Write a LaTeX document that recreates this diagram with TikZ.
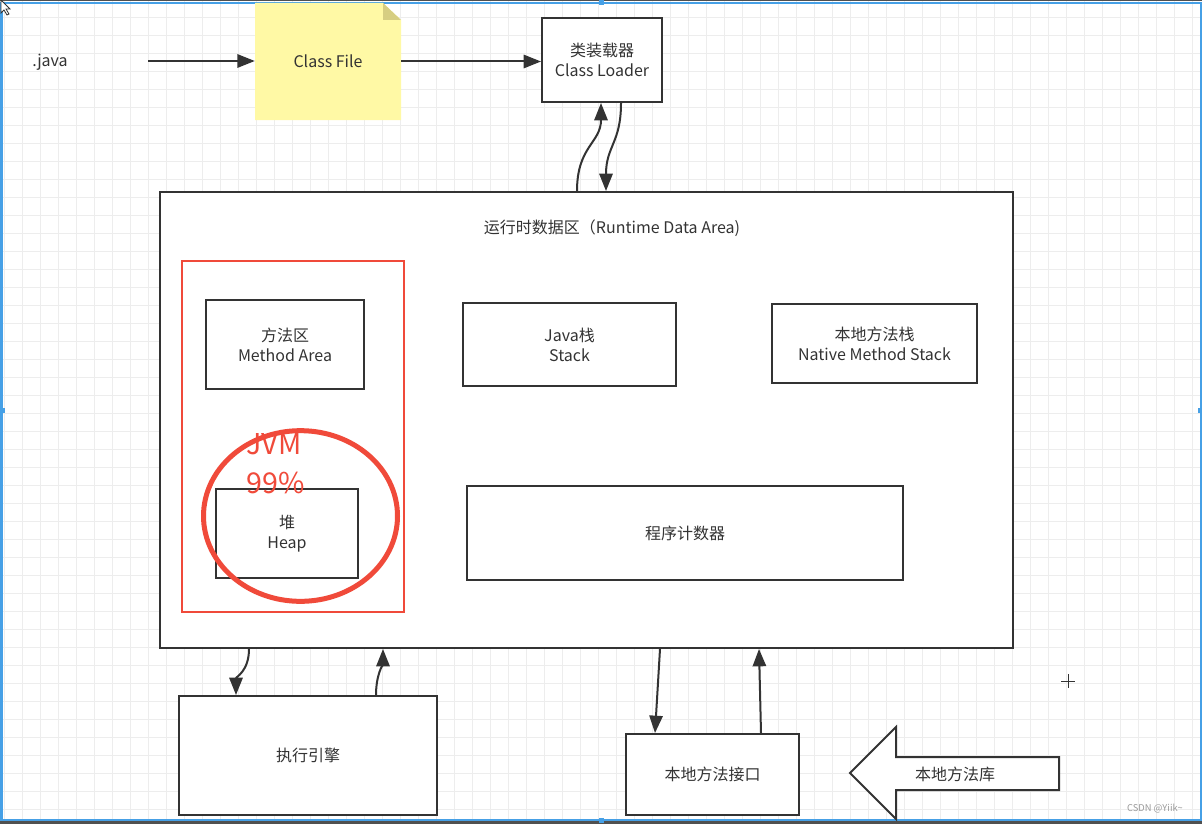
\documentclass[tikz,border=0pt]{standalone}
\usepackage{fontspec}
\setmainfont{Noto Sans CJK SC}
\usetikzlibrary{arrows.meta}
\usetikzlibrary{calc}
\definecolor{boxline}{RGB}{51,51,51}
\definecolor{jvmred}{RGB}{240,74,58}
\definecolor{note}{RGB}{255,249,165}
\definecolor{notefold}{RGB}{214,206,130}
\definecolor{gridline}{RGB}{237,237,237}
\definecolor{frameblue}{RGB}{70,160,230}
\definecolor{darkbar}{RGB}{80,80,80}
\newcommand\pxu{0.75pt}
\tikzset{
  box/.style={draw=boxline, line width=1.5pt, fill=white, text=boxline, align=center,
    font=\fontsize{12}{15}\selectfont, inner sep=0pt},
  plaintext/.style={text=boxline, align=center, font=\fontsize{12}{15}\selectfont, inner sep=0pt},
  flow/.style={draw=boxline, line width=1.5pt, -{Triangle[length=13pt,width=10pt]}},
}

\begin{document}
\begin{tikzpicture}[x=0.75pt, y=-0.75pt]
\useasboundingbox (0,0) rectangle (1202,824);
% background grid
\fill[white] (0,0) rectangle (1202,824);
\foreach \gx in {4.7,22.7,...,1202} {
    \draw[gridline, line width=0.75pt] (\gx,0) -- (\gx,824);
}
\foreach \gy in {17.3,35.3,...,824} {
    \draw[gridline, line width=0.75pt] (0,\gy) -- (1202,\gy);
}
% window frame and handles
\draw[frameblue, line width=1.5pt] (1.5,3) rectangle (1200.5,819.5);
\fill[darkbar] (0,0) rectangle (1202,1.2);
\fill[darkbar] (0,821) rectangle (1202,824);
\foreach \hx/\hy in {601/3, 2/410, 1200/410, 601/820} {
    \fill[frameblue] (\hx-2.5,\hy-2.5) rectangle (\hx+2.5,\hy+2.5);
}
\filldraw[fill=white, draw=boxline, line width=0.6pt] (1,0) -- (1,13) -- (4,10) -- (7,15) -- (9,14) -- (6,9) -- (10,9) -- cycle;

% source and class file
\node[plaintext] (java) at (50,62) {.java};
\coordinate (javaout) at (148,61);
\fill[note] (255,3) -- (383,3) -- (401,20) -- (401,120) -- (255,120) -- cycle;
\fill[notefold] (383,3) -- (383,20) -- (401,20) -- cycle;
\node[plaintext, minimum width=146*\pxu, minimum height=117*\pxu] (classfile) at (328,61.5) {Class File};
\node[box, minimum width=120*\pxu, minimum height=84*\pxu] (loader) at (602,60) {类装载器\\Class Loader};

\draw[flow] (javaout) -- (classfile.west |- javaout);
\draw[flow] (classfile.east) -- (classfile.east -| loader.west);

% runtime data area
\node[box, minimum width=853*\pxu, minimum height=456*\pxu] (rda) at (586.5,420) {};
\node[plaintext] (rdatitle) at (612,228) {运行时数据区（Runtime Data Area)};

\draw[flow] ($(rda.north)+(-9.5,0)$) .. controls +(0,-45) and +(0,40) .. ($(loader.south)+(-1,0)$);
\draw[flow] ($(loader.south)+(19,0)$) .. controls +(0,40) and +(0,-45) .. ($(rda.north)+(19.5,0)$);

\node[draw=jvmred, line width=1.5pt, minimum width=222*\pxu, minimum height=351*\pxu] (jvmzone) at (293,436.5) {};
\node[box, minimum width=158*\pxu, minimum height=89*\pxu] (method) at (285,344.5) {方法区\\Method Area};
\node[box, minimum width=142*\pxu, minimum height=89*\pxu] (heap) at (287,533.5) {堆\\Heap};
\node[box, minimum width=213*\pxu, minimum height=83*\pxu] (stack) at (569.5,344.5) {Java栈\\Stack};
\node[box, minimum width=205*\pxu, minimum height=79*\pxu] (native) at (874.5,343.5) {本地方法栈\\Native Method Stack};
\node[box, minimum width=436*\pxu, minimum height=94*\pxu] (pc) at (685,533) {程序计数器};

% red ring on the heap
\draw[jvmred, line width=3.75pt] (300.5,516) ellipse [x radius=72.75pt, y radius=64pt];
\node[anchor=west, align=left, text=jvmred, inner sep=0pt,
      font=\fontsize{21.5}{29}\selectfont] (jvmtag) at (246,463.5) {JVM\\99\%};

% execution engine and native interface
\node[box, minimum width=258*\pxu, minimum height=119*\pxu] (engine) at (308,755.5) {执行引擎};
\node[box, minimum width=173*\pxu, minimum height=81*\pxu] (jni) at (712.5,774.5) {本地方法接口};

\draw[flow] ($(rda.south west)+(90,0)$) .. controls +(0,22) and +(0,-18) .. ($(engine.north west)+(58,0)$);
\draw[flow] ($(engine.north west)+(198,0)$) .. controls +(0,-20) and +(0,14) .. ($(rda.south west)+(224,0)$);
\draw[flow] ($(rda.south west)+(501,0)$) -- ($(jni.north west)+(30,0)$);
\draw[flow] ($(jni.north west)+(136,0)$) -- ($(rda.south west)+(600,0)$);

% native library arrow
\filldraw[fill=white, draw=boxline, line width=1.5pt] (850,773) -- (896,727) -- (896,757) -- (1059,757)
    -- (1059,790) -- (896,790) -- (896,819) -- cycle;
\node[plaintext] (nativelib) at (955,774) {本地方法库};

% screen bits
\draw[boxline, line width=0.6pt] (1061,681) -- (1075,681) (1068,674) -- (1068,688);
\node[text=black!40, inner sep=0pt, font=\fontsize{7}{8}\selectfont] (watermark) at (1155,809) {CSDN @Yiik\textasciitilde};
\end{tikzpicture}
\end{document}
